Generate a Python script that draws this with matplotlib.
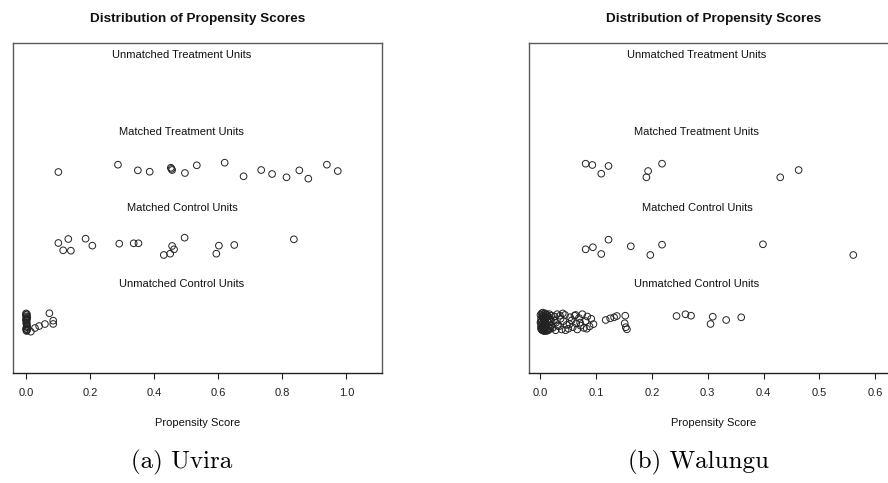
import matplotlib.pyplot as plt

plt.rcParams['font.family'] = ['Liberation Sans', 'DejaVu Sans']

GROUP_LABELS = ["Unmatched Treatment Units", "Matched Treatment Units",
                "Matched Control Units", "Unmatched Control Units"]
GROUP_LABEL_Y = [4, 3, 2, 1]

# Uvira: propensity score (x) and jittered row position (y)
uvira_mt_x = [0.101, 0.287, 0.349, 0.386, 0.452, 0.456, 0.454, 0.496, 0.533, 0.620,
              0.679, 0.734, 0.768, 0.813, 0.853, 0.881, 0.939, 0.973]
uvira_mt_y = [2.471, 2.567, 2.493, 2.475, 2.527, 2.497, 2.512, 2.458, 2.559, 2.593,
              2.415, 2.497, 2.445, 2.402, 2.493, 2.384, 2.567, 2.484]
uvira_mc_x = [0.101, 0.132, 0.116, 0.140, 0.186, 0.207, 0.291, 0.336, 0.351, 0.430,
              0.450, 0.456, 0.462, 0.495, 0.594, 0.602, 0.650, 0.836]
uvira_mc_y = [1.542, 1.594, 1.446, 1.441, 1.598, 1.507, 1.533, 1.538, 1.538, 1.385,
              1.402, 1.503, 1.459, 1.611, 1.402, 1.507, 1.516, 1.590]
uvira_uc_x = [0.000, 0.000, 0.001, 0.001, 0.001, 0.002, 0.002, 0.002, 0.003, 0.003,
              0.000, 0.001, 0.002, 0.003, 0.004, 0.000, 0.001, 0.002, 0.004, 0.003,
              0.015, 0.028, 0.041, 0.059, 0.073, 0.085, 0.085]
uvira_uc_y = [0.62, 0.60, 0.58, 0.56, 0.54, 0.52, 0.50, 0.48, 0.46, 0.44,
              0.42, 0.40, 0.39, 0.61, 0.57, 0.53, 0.49, 0.45, 0.41, 0.55,
              0.381, 0.429, 0.455, 0.481, 0.622, 0.525, 0.482]

# Walungu
walungu_mt_x = [0.081, 0.093, 0.109, 0.122, 0.190, 0.193, 0.218, 0.430, 0.463]
walungu_mt_y = [2.580, 2.563, 2.449, 2.550, 2.402, 2.484, 2.580, 2.402, 2.497]
walungu_mc_x = [0.081, 0.094, 0.109, 0.122, 0.162, 0.197, 0.218, 0.399, 0.561]
walungu_mc_y = [1.459, 1.486, 1.398, 1.585, 1.499, 1.385, 1.520, 1.525, 1.385]
walungu_uc_x = [0.000, 0.001, 0.001, 0.002, 0.002, 0.003, 0.003, 0.004, 0.004, 0.005,
                0.005, 0.006, 0.006, 0.007, 0.007, 0.008, 0.008, 0.009, 0.010, 0.010,
                0.011, 0.012, 0.012, 0.013, 0.014, 0.015, 0.016, 0.017, 0.018, 0.019,
                0.020, 0.000, 0.002, 0.004, 0.006, 0.003, 0.001, 0.005, 0.009, 0.011,
                0.001, 0.003, 0.005, 0.007, 0.009, 0.012, 0.014, 0.016, 0.018, 0.020,
                0.022, 0.025, 0.028, 0.030, 0.033, 0.036, 0.038, 0.041, 0.044, 0.047,
                0.050, 0.053, 0.056, 0.058, 0.061, 0.064, 0.066, 0.069, 0.072, 0.075,
                0.078, 0.081, 0.084, 0.088, 0.091, 0.095, 0.027, 0.040, 0.052, 0.063,
                0.071, 0.083, 0.024, 0.031, 0.035, 0.045,
                0.117, 0.125, 0.132, 0.137, 0.152, 0.151, 0.153, 0.155,
                0.244, 0.260, 0.270, 0.309, 0.305, 0.333, 0.360]
walungu_uc_y = [0.60, 0.45, 0.55, 0.41, 0.62, 0.48, 0.57, 0.43, 0.59, 0.51,
                0.40, 0.46, 0.61, 0.53, 0.42, 0.58, 0.49, 0.44, 0.56, 0.60,
                0.47, 0.52, 0.41, 0.58, 0.45, 0.50, 0.61, 0.43, 0.54, 0.47,
                0.59, 0.50, 0.52, 0.63, 0.39, 0.40, 0.42, 0.56, 0.62, 0.39,
                0.50, 0.44, 0.58, 0.39, 0.47, 0.60, 0.40, 0.55, 0.42, 0.51,
                0.43, 0.58, 0.50, 0.61, 0.45, 0.55, 0.41, 0.52, 0.60, 0.47,
                0.42, 0.57, 0.53, 0.44, 0.59, 0.49, 0.41, 0.56, 0.46, 0.61,
                0.43, 0.52, 0.58, 0.45, 0.55, 0.48, 0.40, 0.62, 0.48, 0.60,
                0.50, 0.42, 0.53, 0.46, 0.59, 0.40,
                0.534, 0.556, 0.569, 0.586, 0.590, 0.491, 0.439, 0.412,
                0.586, 0.609, 0.590, 0.577, 0.482, 0.534, 0.569]

uvira_ticks = [0.0, 0.2, 0.4, 0.6, 0.8, 1.0]
walungu_ticks = [0.0, 0.1, 0.2, 0.3, 0.4, 0.5, 0.6]

BOX_COLOR = "#5a5a5a"


def jitter_panel(ax, groups, ticks, xlim):
    all_x = []
    for xs, ys in groups:
        ax.scatter(xs, ys, s=23, facecolors="none", edgecolors="#222222", linewidths=0.7)
        all_x += xs
    # row labels sit at the middle of the score range
    mid = (min(all_x) + max(all_x)) / 2
    for label, y in zip(GROUP_LABELS, GROUP_LABEL_Y):
        ax.text(mid, y, label, ha="center", va="center", fontsize=8, color="#111111")

    ax.set_xlim(xlim)
    ax.set_ylim(-0.16, 4.16)
    ax.set_yticks([])
    ax.set_xticks(ticks)
    ax.set_xticklabels([f"{t:.1f}" for t in ticks])
    ax.tick_params(axis="x", direction="out", length=4.5, width=0.8, pad=6.5,
                   labelsize=8, color="#222222", labelcolor="#222222")
    for side in ["top", "bottom", "left", "right"]:
        ax.spines[side].set_color(BOX_COLOR)
        ax.spines[side].set_linewidth(1.0)
    ax.spines["bottom"].set_color("#222222")
    ax.set_xlabel("Propensity Score", fontsize=8, labelpad=14, color="#111111")
    ax.set_title("Distribution of Propensity Scores", fontsize=9.7,
                 fontweight="bold", pad=15, color="#111111")


W, H = 888, 483
fig = plt.figure(figsize=(W / 100, H / 100), dpi=100)

ax1 = fig.add_axes([12.7 / W, (H - 373) / H, 369.3 / W, 330 / H])
jitter_panel(ax1,
             [(uvira_mt_x, uvira_mt_y), (uvira_mc_x, uvira_mc_y), (uvira_uc_x, uvira_uc_y)],
             uvira_ticks, (-0.0415, 1.111))

ax2 = fig.add_axes([529 / W, (H - 373) / H, 370 / W, 330 / H])
jitter_panel(ax2,
             [(walungu_mt_x, walungu_mt_y), (walungu_mc_x, walungu_mc_y),
              (walungu_uc_x, walungu_uc_y)],
             walungu_ticks, (-0.0206, 0.643))

fig.text(182 / W, 1 - 462 / H, "(a) Uvira", family="cmr10", fontsize=18,
         ha="center", va="center")
fig.text(698 / W, 1 - 462 / H, "(b) Walungu", family="cmr10", fontsize=18,
         ha="center", va="center")

fig.savefig("out.png", dpi=100)
